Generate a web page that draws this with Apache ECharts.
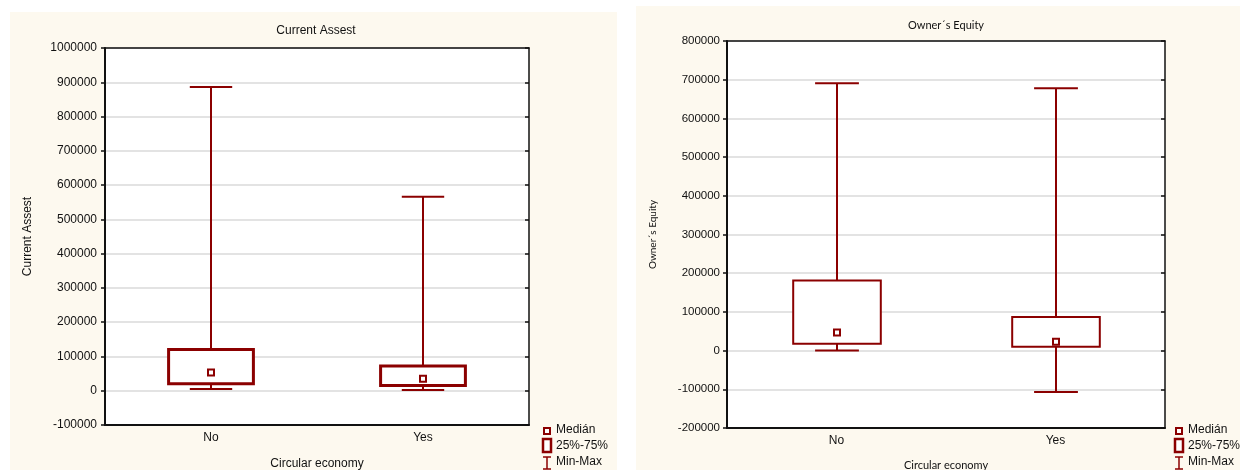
<!DOCTYPE html>
<html><head><meta charset="utf-8">
<script src="https://cdn.jsdelivr.net/npm/echarts@6/dist/echarts.min.js"></script>
<style>html,body{margin:0;padding:0;background:#fff}#c{width:1240px;height:470px}</style>
</head><body><div id="c"></div>
<script>
// ---- data ----
const categories = ['No', 'Yes'];
// Current Assest
const assetMin    = [5000, 2000];
const assetQ1     = [20000, 15000];
const assetMedian = [53000, 35000];
const assetQ3     = [120000, 72000];
const assetMax    = [886000, 566000];
const assetAxis   = [-100000, 1000000, 100000]; // min, max, step
// Owner´s Equity
const equityMin    = [0, -107000];
const equityQ1     = [18000, 10000];
const equityMedian = [47000, 23000];
const equityQ3     = [181000, 87000];
const equityMax    = [691000, 678000];
const equityAxis   = [-200000, 800000, 100000];
const legendLabels = ['Medián', '25%-75%', 'Min-Max'];

const RED = '#8b0000';
const ARIAL = '"Liberation Sans", Arial, sans-serif';
const CALI = 'Lato, "Noto Sans", sans-serif';

function rows(mn, q1, md, q3, mx) {
  return categories.map((c, i) => [i, mn[i], q1[i], md[i], q3[i], mx[i]]);
}

function makeRender(boxLW, whiskLW, medSize) {
  return function (params, api) {
    const i = api.value(0);
    const pMin = api.coord([i, api.value(1)]);
    const pQ1 = api.coord([i, api.value(2)]);
    const pMed = api.coord([i, api.value(3)]);
    const pQ3 = api.coord([i, api.value(4)]);
    const pMax = api.coord([i, api.value(5)]);
    const band = api.size([1, 0])[0];
    const bw = band * 0.4, cw = band * 0.2;
    const x = Math.round(pMin[0]);
    const ls = { stroke: RED, lineWidth: whiskLW };
    return {
      type: 'group',
      children: [
        { type: 'line', shape: { x1: x, y1: pMax[1], x2: x, y2: pQ3[1] }, style: ls },
        { type: 'line', shape: { x1: x, y1: pQ1[1], x2: x, y2: pMin[1] }, style: ls },
        { type: 'line', shape: { x1: x - cw / 2, y1: pMax[1], x2: x + cw / 2, y2: pMax[1] }, style: ls },
        { type: 'line', shape: { x1: x - cw / 2, y1: pMin[1], x2: x + cw / 2, y2: pMin[1] }, style: ls },
        { type: 'rect', shape: { x: x - bw / 2, y: pQ3[1], width: bw, height: pQ1[1] - pQ3[1] },
          style: { fill: '#fff', stroke: RED, lineWidth: boxLW } },
        { type: 'rect', shape: { x: x - medSize / 2, y: pMed[1] - medSize / 2, width: medSize, height: medSize },
          style: { fill: '#fff', stroke: RED, lineWidth: 2 } }
      ]
    };
  };
}

function legendGraphics(mx, tx, fontSize) {
  const g = [];
  g.push({ type: 'rect', shape: { x: mx - 3, y: 428, width: 6, height: 6 }, style: { fill: '#fff', stroke: RED, lineWidth: 2 } });
  g.push({ type: 'rect', shape: { x: mx - 4, y: 439, width: 8, height: 13 }, style: { fill: '#fff', stroke: RED, lineWidth: 2.5 } });
  g.push({ type: 'line', shape: { x1: mx, y1: 457, x2: mx, y2: 469 }, style: { stroke: RED, lineWidth: 1.5 } });
  g.push({ type: 'line', shape: { x1: mx - 4, y1: 457, x2: mx + 4, y2: 457 }, style: { stroke: RED, lineWidth: 1.5 } });
  g.push({ type: 'line', shape: { x1: mx - 4, y1: 469, x2: mx + 4, y2: 469 }, style: { stroke: RED, lineWidth: 1.5 } });
  [430, 446, 462].forEach((y, k) => {
    g.push({ type: 'text', x: tx, y: y, style: { text: legendLabels[k], font: fontSize + 'px ' + ARIAL, fill: '#111', textVerticalAlign: 'middle' } });
  });
  return g;
}

const fmt = v => String(v);

function catAxis(grid, top, font, nameGap, nameFont) {
  const a = { type: 'category', gridIndex: grid, data: categories, boundaryGap: true,
    position: top ? 'top' : 'bottom',
    axisLine: { onZero: false, lineStyle: { color: '#111', width: top ? 1.5 : 2 } },
    axisTick: { alignWithLabel: true, inside: top, length: 4, lineStyle: { color: '#111', width: 1.5 } },
    axisLabel: top ? { show: false } : { fontFamily: ARIAL, fontSize: font, color: '#111', margin: 7 } };
  if (!top) {
    a.name = 'Circular economy'; a.nameLocation = 'middle'; a.nameGap = nameGap;
    a.nameTextStyle = nameFont;
  }
  return a;
}

const option = {
  animation: false,
  backgroundColor: '#fff',
  title: [
    { text: 'Current Assest', left: 316, top: 25, textAlign: 'center', padding: 0,
      textStyle: { fontFamily: ARIAL, fontSize: 12, fontWeight: 'normal', color: '#111' } },
    { text: 'Owner´s Equity', left: 946, top: 20, textAlign: 'center', padding: 0,
      textStyle: { fontFamily: CALI, fontSize: 11, fontWeight: 'normal', color: '#111' } }
  ],
  graphic: [
    { type: 'rect', z: -10, shape: { x: 10, y: 12, width: 607, height: 458 }, style: { fill: '#fdf9ef' } },
    { type: 'rect', z: -10, shape: { x: 636, y: 6, width: 604, height: 464 }, style: { fill: '#fdf9ef' } },
    ...legendGraphics(547, 556, 12),
    ...legendGraphics(1179, 1188, 12)
  ],
  grid: [
    { left: 105, top: 48, width: 424, height: 377, show: true, backgroundColor: '#fff', borderWidth: 0,
      containLabel: false, outerBoundsMode: 'none' },
    { left: 727, top: 41, width: 438, height: 387, show: true, backgroundColor: '#fff', borderWidth: 0,
      containLabel: false, outerBoundsMode: 'none' }
  ],
  xAxis: [
    catAxis(0, false, 12, 33, { fontFamily: ARIAL, fontSize: 12, color: '#111' }),
    catAxis(0, true),
    catAxis(1, false, 12, 32, { fontFamily: CALI, fontSize: 11, color: '#111' }),
    catAxis(1, true)
  ],
  yAxis: [
    { type: 'value', gridIndex: 0, min: assetAxis[0], max: assetAxis[1], interval: assetAxis[2],
      axisLine: { show: true, onZero: false, lineStyle: { color: '#111', width: 2 } },
      axisTick: { show: true, length: 4, lineStyle: { color: '#111', width: 1.5 } },
      axisLabel: { formatter: fmt, fontFamily: ARIAL, fontSize: 12, color: '#111', margin: 8 },
      splitLine: { show: true, lineStyle: { color: '#dadada', width: 1.5 } },
      name: 'Current Assest', nameLocation: 'middle', nameGap: 71,
      nameTextStyle: { fontFamily: ARIAL, fontSize: 12, color: '#111' } },
    { type: 'value', gridIndex: 0, position: 'right', min: assetAxis[0], max: assetAxis[1], interval: assetAxis[2],
      axisLine: { show: true, onZero: false, lineStyle: { color: '#111', width: 1.5 } },
      axisTick: { show: true, inside: true, length: 4, lineStyle: { color: '#111', width: 1.5 } },
      axisLabel: { show: false }, splitLine: { show: false } },
    { type: 'value', gridIndex: 1, min: equityAxis[0], max: equityAxis[1], interval: equityAxis[2],
      axisLine: { show: true, onZero: false, lineStyle: { color: '#111', width: 2 } },
      axisTick: { show: true, length: 4, lineStyle: { color: '#111', width: 1.5 } },
      axisLabel: { formatter: fmt, fontFamily: ARIAL, fontSize: 11.5, color: '#111', margin: 7 },
      splitLine: { show: true, lineStyle: { color: '#dadada', width: 1.5 } },
      name: 'Owner´s Equity', nameLocation: 'middle', nameGap: 69,
      nameTextStyle: { fontFamily: CALI, fontSize: 10, color: '#111' } },
    { type: 'value', gridIndex: 1, position: 'right', min: equityAxis[0], max: equityAxis[1], interval: equityAxis[2],
      axisLine: { show: true, onZero: false, lineStyle: { color: '#111', width: 1.5 } },
      axisTick: { show: true, inside: true, length: 4, lineStyle: { color: '#111', width: 1.5 } },
      axisLabel: { show: false }, splitLine: { show: false } }
  ],
  series: [
    { type: 'custom', name: 'Current Assest', xAxisIndex: 0, yAxisIndex: 0,
      data: rows(assetMin, assetQ1, assetMedian, assetQ3, assetMax),
      encode: { x: 0, y: [1, 2, 3, 4, 5] }, renderItem: makeRender(3, 2, 6) },
    { type: 'custom', name: 'Owner´s Equity', xAxisIndex: 2, yAxisIndex: 2,
      data: rows(equityMin, equityQ1, equityMedian, equityQ3, equityMax),
      encode: { x: 0, y: [1, 2, 3, 4, 5] }, renderItem: makeRender(2, 2, 6) }
  ]
};
const chart = echarts.init(document.getElementById('c'), null, { renderer: 'canvas' });
chart.setOption(option);
</script>
</body></html>
